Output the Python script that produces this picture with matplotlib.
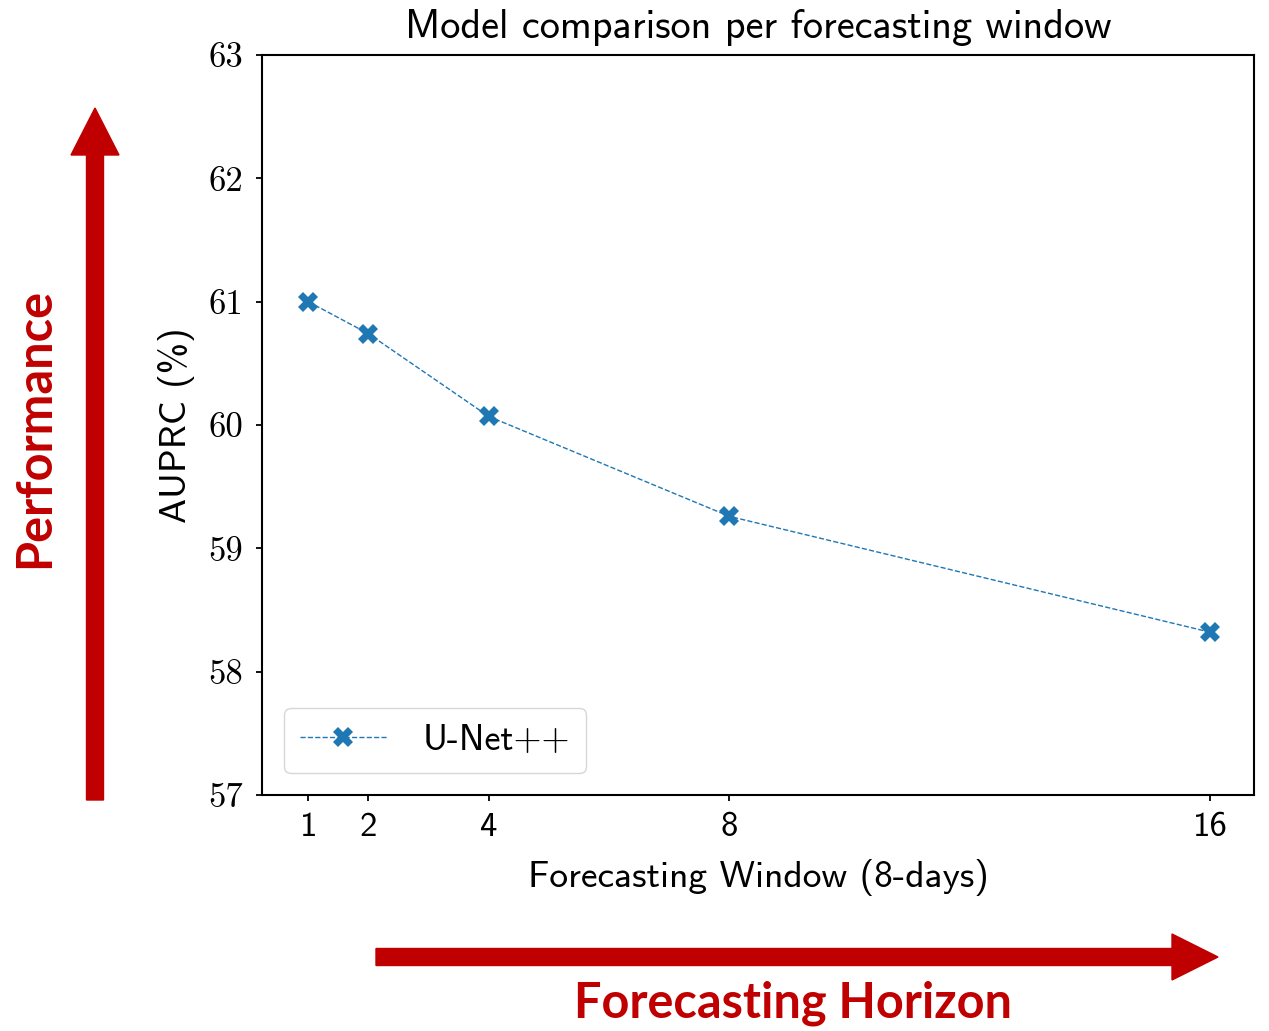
import numpy as np
import matplotlib
matplotlib.use("Agg")
import matplotlib.pyplot as plt
from matplotlib.patches import FancyArrow

# data
windows = [1, 2, 4, 8, 16]
auprc = [61.00, 60.74, 60.07, 59.26, 58.32]
y_ticks = [57, 58, 59, 60, 61, 62, 63]
series_name = "U-Net++"

SANS = "cmss10"
SERIF = "cmr10"
RED = "#C00000"
BLUE = "#1f77b4"

plt.rcParams["axes.unicode_minus"] = False
plt.rcParams["mathtext.fontset"] = "cm"

fig = plt.figure(figsize=(12.69, 10.31), dpi=100, facecolor="white")
ax = fig.add_axes([262 / 1269, 1 - 795 / 1031, (1254 - 262) / 1269, (795 - 55) / 1031])

ax.plot(windows, auprc, linestyle="--", linewidth=1.0, color=BLUE,
        marker="X", markersize=14, markeredgewidth=0, label=series_name)

ax.set_xlim(0.23, 16.73)
ax.set_ylim(57, 63)
ax.set_xticks(windows)
ax.set_xticklabels([str(w) for w in windows], fontfamily=SANS, fontsize=25)
ax.set_yticks(y_ticks)
ax.set_yticklabels([str(t) for t in y_ticks], fontfamily=SERIF, fontsize=25)
ax.tick_params(direction="out", length=4.5, width=1.3)
ax.tick_params(axis="x", pad=8)
ax.tick_params(axis="y", pad=9)
for s in ax.spines.values():
    s.set_linewidth(1.5)

ax.set_title("Model comparison per forecasting window", fontfamily=SANS,
             fontsize=29, pad=12)
ax.set_xlabel("Forecasting Window (8-days)", fontfamily=SANS, fontsize=27, labelpad=11)
ax.set_ylabel("AUPRC (%)", fontfamily=SANS, fontsize=27, labelpad=10)

leg = ax.legend(loc="lower left", prop={"family": SANS, "size": 26},
                borderpad=0.45, handlelength=2.4, handletextpad=1.0,
                framealpha=0.8, fancybox=True, borderaxespad=0.6)
leg.get_frame().set_edgecolor("#cccccc")

# red annotation arrows (inches from bottom-left)
tr = fig.dpi_scale_trans
fig.patches.append(FancyArrow(0.95, 10.31 - 8.00, 0, (800 - 108) / 100, width=0.17,
                              head_width=0.48, head_length=0.47,
                              length_includes_head=True, color=RED, transform=tr,
                              figure=fig))
fig.patches.append(FancyArrow(3.76, 10.31 - 9.57, (1218 - 376) / 100, 0, width=0.17,
                              head_width=0.46, head_length=0.46,
                              length_includes_head=True, color=RED, transform=tr,
                              figure=fig))

fig.text(35 / 1269, 1 - 428 / 1031, "Performance", rotation=90, color=RED,
         fontfamily="Lato", fontweight="bold", fontsize=35, ha="center", va="center")
fig.text(793 / 1269, 1 - 1003 / 1031, "Forecasting Horizon", color=RED,
         fontfamily="Lato", fontweight="bold", fontsize=35, ha="center", va="center")

fig.savefig("out.png", dpi=100, facecolor="white")
